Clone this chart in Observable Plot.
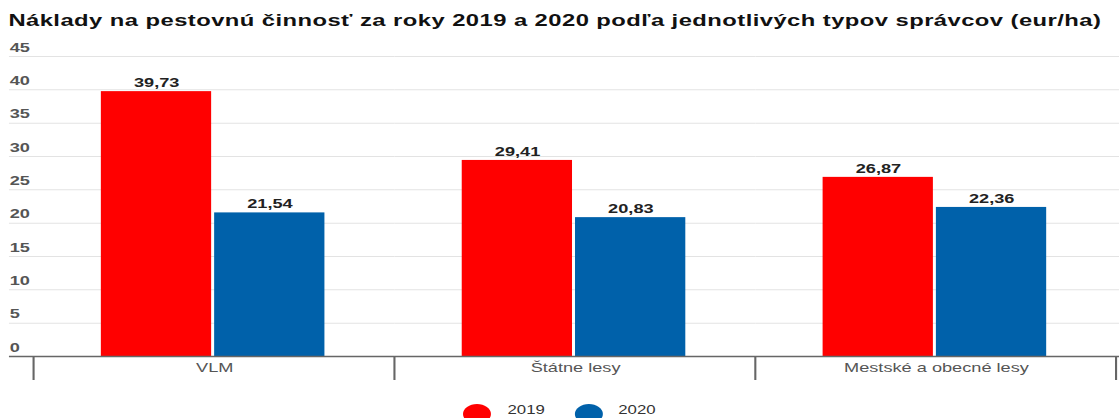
<!DOCTYPE html>
<html>
<head>
<meta charset="utf-8">
<script src="https://cdn.jsdelivr.net/npm/d3@7"></script>
<script src="https://cdn.jsdelivr.net/npm/@observablehq/plot@0.6"></script>
<style>
  html, body { margin: 0; padding: 0; background: #fff; overflow: hidden; }
  #wrap { width: 800px; transform: scaleX(1.39875); transform-origin: 0 0; font-family: "Liberation Sans", Arial, sans-serif; }
  #title { height: 36px; box-sizing: border-box; padding: 12px 0 0 6px; font-size: 17px; letter-spacing: 0.32px; line-height: 18px; font-weight: bold; color: #111; white-space: nowrap; }
  #chart svg { display: block; overflow: visible; }
  #legend { display: flex; justify-content: center; align-items: flex-start; height: 40px; padding-top: 11px; box-sizing: border-box; font-size: 12px; color: #333; }
  .item { display: flex; align-items: flex-start; margin: 0 10.5px; }
  .sw { width: 20px; height: 20px; border-radius: 50%; margin-top: 1px; margin-right: 11.5px; }
  .lab { line-height: 14px; }
</style>
</head>
<body>
<div id="wrap">
  <div id="title">Náklady na pestovnú činnosť za roky 2019 a 2020 podľa jednotlivých typov správcov (eur/ha)</div>
  <div id="chart"></div>
  <div id="legend"></div>
</div>
<script>
const categories = ["VLM", "Štátne lesy", "Mestské a obecné lesy"];
const years = ["2019", "2020"];
const values2019 = [39.73, 29.41, 26.87];
const values2020 = [21.54, 20.83, 22.36];
const colors = ["#ff0000", "#0061aa"];
const yTicks = [0, 5, 10, 15, 20, 25, 30, 35, 40, 45];

const data = [];
categories.forEach((c, i) => {
  data.push({cat: c, year: years[0], value: values2019[i]});
  data.push({cat: c, year: years[1], value: values2020[i]});
});
const fmt = v => v.toFixed(2).replace(".", ",");
const tickData = yTicks.map(v => ({cat: categories[0], v}));

const W = 800, H = 356, mTop = 20, mBottom = 36, mLeft = 23.6, mRight = 2.1;
const extL = -17.6, extR = -2.1; // horizontal rules reach past the outer bands to the chart edges

// horizontal rules per band: the first band extends left, the last extends right, no overlaps
function hRules(values, style) {
  const last = categories.length - 1;
  return categories.map((c, i) => Plot.ruleY(values.map(v => ({cat: c, v})), {
    fx: "cat", y: "v", ...style,
    insetLeft: i === 0 ? extL : 0,
    insetRight: i === last ? extR : 0
  }));
}

const chart = Plot.plot({
  width: W,
  height: H,
  marginTop: mTop,
  marginBottom: mBottom,
  marginLeft: mLeft,
  marginRight: mRight,
  style: {fontFamily: '"Liberation Sans", Arial, sans-serif', fontSize: "13px", color: "#555", background: "#fff", overflow: "visible"},
  fx: {domain: categories, padding: 0, axis: "bottom", tickSize: 0, tickPadding: 6, label: null},
  x: {domain: years, paddingInner: 0.0265, paddingOuter: 0.606, align: 0.49, round: false, axis: null},
  y: {domain: [0, 45], axis: null},
  color: {domain: years, range: colors},
  marks: [
    ...hRules(yTicks.filter(d => d > 0), {stroke: "#e3e3e3", strokeWidth: 1}),
    Plot.text(tickData, {fx: "cat", y: "v", text: d => String(d.v), frameAnchor: "left", textAnchor: "start", dx: extL, dy: -9, fill: "#555", fontWeight: "bold", fontSize: 13}),
    Plot.barY(data, {fx: "cat", x: "year", y: "value", fill: "year"}),
    Plot.text(data, {fx: "cat", x: "year", y: "value", text: d => fmt(d.value), dy: -9, fill: "#222", fontWeight: "bold", fontSize: 13}),
    ...hRules([0], {stroke: "#666", strokeWidth: 1.5})
  ]
});
document.getElementById("chart").appendChild(chart);

// category separators drawn from the library's own fx and y scales
const fxs = chart.scale("fx");
const ys = chart.scale("y");
const edges = categories.map(c => fxs.apply(c)).concat([fxs.range[1]]);
const y0 = ys.apply(0);
d3.select(chart).append("g")
  .selectAll("line").data(edges).join("line")
  .attr("x1", d => d).attr("x2", d => d)
  .attr("y1", y0).attr("y2", y0 + 24)
  .attr("stroke", "#666").attr("stroke-width", 1.5);

// legend
const legend = d3.select("#legend");
years.forEach((yr, i) => {
  const it = legend.append("div").attr("class", "item");
  it.append("div").attr("class", "sw").style("background", colors[i]);
  it.append("div").attr("class", "lab").text(yr);
});
</script>
</body>
</html>
